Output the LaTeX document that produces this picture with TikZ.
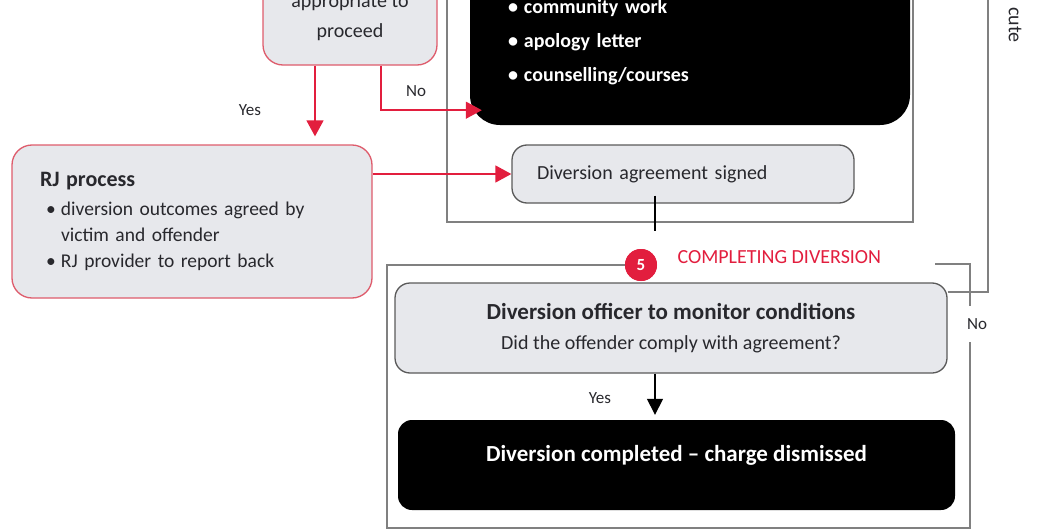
\documentclass[tikz,border=0pt]{standalone}
\usepackage{fontspec}
\setmainfont{Carlito}
\usetikzlibrary{arrows.meta}

\definecolor{rjred}{RGB}{222,92,108}
\definecolor{arrred}{RGB}{226,30,62}
\definecolor{boxgrey}{RGB}{231,232,236}
\definecolor{framegrey}{RGB}{128,128,128}
\definecolor{edgegrey}{RGB}{90,90,90}
\definecolor{inkgrey}{RGB}{40,40,45}

\begin{document}
\begin{tikzpicture}[x=1pt,y=-1pt,
	font=\fontsize{20}{26}\selectfont,
	redbox/.style={draw=rjred,line width=1.3pt,fill=boxgrey,rounded corners=20pt,text=inkgrey},
	greybox/.style={draw=edgegrey,line width=1.3pt,fill=boxgrey,rounded corners=15pt,text=inkgrey},
	blackbox/.style={fill=black,text=white,font=\fontsize{20}{34}\selectfont\bfseries},
	frame/.style={draw=framegrey,line width=2pt},
	redarrow/.style={draw=arrred,line width=1.5pt,-{Triangle[width=17pt,length=16pt]}},
	blackarrow/.style={draw=black,line width=1.5pt,-{Triangle[width=16pt,length=16pt]}},
	lbl/.style={font=\fontsize{17}{20}\selectfont,text=inkgrey}]
	\useasboundingbox (0,0) rectangle (1037,530);
	\clip (0,0) rectangle (1037,530);

	% stage four frame and its boxes
	\draw[frame] (447,-10) |- (913,222) -- (913,-10);
	\node[redbox,minimum width=174pt,minimum height=96pt,align=center,font=\fontsize{20}{30}\selectfont] (appr) at (350,17) {appropriate to\\proceed};
	\node[blackbox,rounded corners=30pt,minimum width=440pt,minimum height=166pt,text width=370pt,inner xsep=35pt,align=left] (actions) at (690,42)
		{\makebox[19pt][l]{\hspace{3pt}\textbullet}community work\\
		 \makebox[19pt][l]{\hspace{3pt}\textbullet}apology letter\\
		 \makebox[19pt][l]{\hspace{3pt}\textbullet}counselling/courses};
	\node[greybox,minimum width=342pt,minimum height=58pt,text width=292pt,inner xsep=25pt,align=left] (signed) at (683,174) {Diversion agreement signed};
	\node[redbox,minimum width=360pt,minimum height=153pt,text width=304pt,inner xsep=28pt,align=left,font=\fontsize{19.5}{26}\selectfont] (rj) at (192,221.5)
		{{\fontsize{22}{26}\selectfont\bfseries RJ process}\\[3pt]
		 \makebox[21pt][l]{\hspace{6pt}\textbullet}diversion outcomes agreed by\\
		 \hspace*{21pt}victim and offender\\
		 \makebox[21pt][l]{\hspace{6pt}\textbullet}RJ provider to report back};

	\draw[redarrow,shorten >=8pt] ([xshift=-35pt]appr.south) -- ([xshift=-35pt]appr.south |- rj.north);
	\draw[redarrow] ([xshift=31pt]appr.south) |- ([xshift=12pt,yshift=15pt]actions.south west);
	\draw[redarrow] (rj.east |- signed.west) -- (signed.west);
	\node[lbl] (yes1) at (250,110) {Yes};
	\node[lbl] (no1) at (416,91) {No};

	% stage five
	\node[circle,fill=arrred,minimum size=32pt,inner sep=0pt] (stepfive) at (641,265) {};
	\draw[frame] (stepfive.west) -- (387,265) |- (970,528) |- (935,264);
	\node[circle,fill=arrred,text=white,font=\fontsize{17}{17}\selectfont\bfseries,minimum size=32pt,inner sep=0pt] (stepnum) at (stepfive) {5};
	\node[anchor=west,text=arrred,font=\fontsize{20}{20}\selectfont] (stagetitle) at (674,257) {COMPLETING DIVERSION};
	\draw[line width=2pt] ([xshift=-28pt,yshift=8pt]signed.south) -- ([xshift=-28pt,yshift=-27pt]signed.south);

	\node[greybox,minimum width=552pt,minimum height=90pt,align=center] (monitor) at (671,328)
		{{\fontsize{23}{26}\selectfont\bfseries Diversion officer to monitor conditions}\\[4pt]
		 Did the offender comply with agreement?};
	\node[fill=black,text=white,rounded corners=14pt,minimum width=557pt,minimum height=90pt,text depth=24pt,font=\fontsize{23}{26}\selectfont\bfseries] (done) at (676.5,465)
		{Diversion completed \textendash\ charge dismissed};
	\draw[blackarrow,shorten >=5pt] ([xshift=-16pt]monitor.south) -- ([xshift=-16pt]monitor.south |- done.north);
	\node[lbl] (yes2) at (600,398) {Yes};

	% back up to prosecution
	\coordinate (prosecute) at (988,-10);
	\draw[frame] ([yshift=-10pt]monitor.north east) -| (prosecute);
	\node[lbl,fill=white,inner xsep=4pt,inner ysep=12pt] (no2) at (977,324) {No};
	\node[rotate=-90,text=inkgrey] (cutlabel) at (1015,25) {cute};
\end{tikzpicture}
\end{document}
